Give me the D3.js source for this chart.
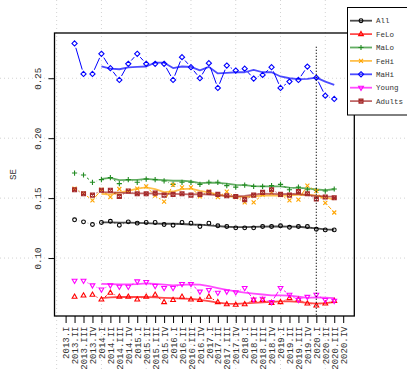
<!DOCTYPE html>
<html>
<head>
<meta charset="utf-8">
<script src="https://cdn.jsdelivr.net/npm/d3@7/dist/d3.min.js"></script>
<style>
  body { margin: 0; background: #fff; }
  text { font-family: "Liberation Mono", "DejaVu Sans Mono", monospace; }
</style>
</head>
<body>
<svg id="chart" width="407" height="371"></svg>
<script>
// Quarter labels on the x axis
const quarters = [
  "2013.I","2013.II","2013.III","2013.IV",
  "2014.I","2014.II","2014.III","2014.IV",
  "2015.I","2015.II","2015.III","2015.IV",
  "2016.I","2016.II","2016.III","2016.IV",
  "2017.I","2017.II","2017.III","2017.IV",
  "2018.I","2018.II","2018.III","2018.IV",
  "2019.I","2019.II","2019.III","2019.IV",
  "2020.I","2020.II","2020.III","2020.IV"
];
// Observed estimates run 2013.II .. 2020.III, smoothed trend 2014.I .. 2020.III
const obsFrom = "2013.II";
const trendFrom = "2014.I";
const breakQuarter = "2020.I";

const yTicks = [0.10, 0.15, 0.20, 0.25];
const xGridPos = [0, 5, 10, 15, 20, 25, 30];

const seriesNames = ["All", "FeLo", "MaLo", "FeHi", "MaHi", "Young", "Adults"];
const seriesColors = ["#000000", "#ff0000", "#228b22", "#ffa500", "#0000ff", "#ff00ff", "#a52a2a"];
const seriesSymbols = ["circle", "triUp", "plus", "cross", "diamond", "triDown", "squareX"];

// Standard errors by quarter
const All    = [0.1319,0.1302,0.1280,0.1297,0.1307,0.1274,0.1302,0.1291,0.1297,0.1297,0.1280,0.1274,0.1297,0.1291,0.1263,0.1291,0.1269,0.1263,0.1252,0.1252,0.1252,0.1263,0.1263,0.1269,0.1257,0.1263,0.1263,0.1240,0.1235,0.1235];
const FeLo   = [0.0677,0.0688,0.0694,0.0654,0.0710,0.0677,0.0677,0.0654,0.0677,0.0694,0.0632,0.0650,0.0677,0.0654,0.0650,0.0677,0.0632,0.0615,0.0610,0.0615,0.0650,0.0650,0.0626,0.0632,0.0666,0.0654,0.0621,0.0604,0.0621,0.0643];
const MaLo   = [0.1709,0.1693,0.1632,0.1654,0.1671,0.1621,0.1654,0.1632,0.1659,0.1654,0.1643,0.1615,0.1632,0.1632,0.1615,0.1632,0.1632,0.1604,0.1592,0.1609,0.1598,0.1598,0.1604,0.1615,0.1570,0.1592,0.1570,0.1565,0.1559,0.1576];
const FeHi   = [0.1580,0.1540,0.1481,0.1570,0.1509,0.1576,0.1560,0.1580,0.1598,0.1520,0.1470,0.1610,0.1590,0.1590,0.1514,0.1555,0.1509,0.1554,0.1509,0.1464,0.1464,0.1530,0.1545,0.1525,0.1481,0.1487,0.1604,0.1560,0.1461,0.1380];
const MaHi   = [0.2790,0.2536,0.2536,0.2704,0.2584,0.2486,0.2620,0.2704,0.2620,0.2620,0.2620,0.2486,0.2676,0.2592,0.2500,0.2626,0.2419,0.2606,0.2564,0.2580,0.2497,0.2528,0.2592,0.2419,0.2472,0.2486,0.2597,0.2505,0.2354,0.2327];
const Young  = [0.0811,0.0811,0.0772,0.0738,0.0772,0.0761,0.0761,0.0805,0.0800,0.0767,0.0750,0.0750,0.0783,0.0783,0.0720,0.0733,0.0710,0.0720,0.0715,0.0750,0.0654,0.0660,0.0632,0.0750,0.0694,0.0650,0.0676,0.0694,0.0650,0.0643];
const Adults = [0.1570,0.1537,0.1525,0.1565,0.1565,0.1514,0.1559,0.1537,0.1537,0.1542,0.1525,0.1531,0.1537,0.1525,0.1531,0.1548,0.1531,0.1520,0.1514,0.1487,0.1525,0.1548,0.1570,0.1531,0.1525,0.1554,0.1537,0.1492,0.1509,0.1503];

// Smoothed trend per group
const AllTrend    = [0.1298,0.1298,0.1296,0.1295,0.1294,0.1292,0.1288,0.1286,0.1286,0.1284,0.1280,0.1278,0.1272,0.1266,0.1261,0.1258,0.1258,0.1260,0.1262,0.1263,0.1263,0.1262,0.1261,0.1255,0.1247,0.1240,0.1236];
const FeLoTrend   = [0.0666,0.0672,0.0675,0.0676,0.0675,0.0675,0.0672,0.0668,0.0665,0.0662,0.0660,0.0652,0.0640,0.0628,0.0620,0.0618,0.0622,0.0626,0.0630,0.0634,0.0638,0.0638,0.0634,0.0626,0.0620,0.0624,0.0632];
const MaLoTrend   = [0.1660,0.1668,0.1650,0.1652,0.1652,0.1660,0.1655,0.1650,0.1645,0.1645,0.1640,0.1625,0.1630,0.1628,0.1620,0.1610,0.1608,0.1600,0.1598,0.1598,0.1598,0.1588,0.1586,0.1582,0.1572,0.1566,0.1574];
const FeHiTrend   = [0.1535,0.1530,0.1545,0.1560,0.1580,0.1590,0.1575,0.1550,0.1555,0.1575,0.1580,0.1560,0.1548,0.1530,0.1515,0.1510,0.1510,0.1515,0.1520,0.1522,0.1520,0.1522,0.1528,0.1530,0.1520,0.1505,0.1490];
const MaHiTrend   = [0.2600,0.2580,0.2575,0.2590,0.2595,0.2598,0.2630,0.2630,0.2585,0.2598,0.2595,0.2565,0.2595,0.2540,0.2545,0.2550,0.2550,0.2570,0.2550,0.2550,0.2515,0.2500,0.2492,0.2495,0.2505,0.2472,0.2444];
const YoungTrend  = [0.0785,0.0782,0.0780,0.0780,0.0782,0.0788,0.0785,0.0778,0.0772,0.0776,0.0780,0.0778,0.0765,0.0750,0.0735,0.0722,0.0712,0.0704,0.0696,0.0688,0.0688,0.0686,0.0677,0.0668,0.0672,0.0670,0.0666];
const AdultsTrend = [0.1550,0.1548,0.1545,0.1542,0.1540,0.1540,0.1538,0.1535,0.1535,0.1533,0.1532,0.1533,0.1530,0.1525,0.1518,0.1514,0.1518,0.1528,0.1537,0.1535,0.1533,0.1535,0.1533,0.1525,0.1518,0.1514,0.1512];

const observed = [All, FeLo, MaLo, FeHi, MaHi, Young, Adults];
const trends = [AllTrend, FeLoTrend, MaLoTrend, FeHiTrend, MaHiTrend, YoungTrend, AdultsTrend];

// ---- layout ----
const W = 407, H = 371;
const plot = { left: 54.5, right: 354.3, top: 33, bottom: 316 };
const svg = d3.select("#chart");

const qIndex = q => quarters.indexOf(q) + 1;
const n = quarters.length;
const xPad = 0.04 * (n - 1);
const x = d3.scaleLinear().domain([1 - xPad, n + xPad]).range([plot.left, plot.right]);

const allVals = observed.flat();
const yMin = d3.min(allVals), yMax = d3.max(allVals);
const yPad = 0.04 * (yMax - yMin);
const y = d3.scaleLinear().domain([yMin - yPad, yMax + yPad]).range([plot.bottom, plot.top]);

// ---- background grid across the whole figure ----
const grid = svg.append("g").attr("stroke", "#d3d3d3").attr("stroke-width", 1).attr("stroke-dasharray", "1,3");
grid.selectAll("line.v").data(xGridPos).join("line")
  .attr("x1", d => x(d)).attr("x2", d => x(d)).attr("y1", 0).attr("y2", H);
grid.selectAll("line.h").data(yTicks).join("line")
  .attr("y1", d => y(d)).attr("y2", d => y(d)).attr("x1", 0).attr("x2", W);

// ---- symbols ----
function symbolPath(kind) {
  switch (kind) {
    case "circle":  return "M1.9,0A1.9,1.9 0 1,1 -1.9,0A1.9,1.9 0 1,1 1.9,0Z";
    case "triUp":   return "M0,-2.7L2.4,1.5L-2.4,1.5Z";
    case "triDown": return "M0,2.7L2.4,-1.5L-2.4,-1.5Z";
    case "plus":    return "M-2.6,0H2.6M0,-2.6V2.6";
    case "cross":   return "M-2,-2L2,2M-2,2L2,-2";
    case "diamond": return "M0,-2.6L2.6,0L0,2.6L-2.6,0Z";
    case "squareX": return "M-2,-2H2V2H-2ZM-2,-2L2,2M-2,2L2,-2";
  }
}

// ---- series: gapped connecting segments, markers, trend line ----
const gap = 4.5;
const plotArea = svg.append("g");
const obsStart = qIndex(obsFrom);
const trendStart = qIndex(trendFrom);

seriesNames.forEach((name, s) => {
  const col = seriesColors[s];
  const pts = observed[s].map((v, i) => [x(obsStart + i), y(v)]);
  const g = plotArea.append("g");

  // point-to-point segments with gaps around the markers
  const segs = [];
  for (let i = 0; i < pts.length - 1; i++) {
    const [x1, y1] = pts[i], [x2, y2] = pts[i + 1];
    const d = Math.hypot(x2 - x1, y2 - y1);
    if (d > 2 * gap) {
      const ux = (x2 - x1) / d, uy = (y2 - y1) / d;
      segs.push([x1 + ux * gap, y1 + uy * gap, x2 - ux * gap, y2 - uy * gap]);
    }
  }
  g.selectAll("line").data(segs).join("line")
    .attr("x1", d => d[0]).attr("y1", d => d[1]).attr("x2", d => d[2]).attr("y2", d => d[3])
    .attr("stroke", col).attr("stroke-width", 1);

  // markers
  g.selectAll("path.pt").data(pts).join("path").attr("class", "pt")
    .attr("transform", d => `translate(${d[0]},${d[1]})`)
    .attr("d", symbolPath(seriesSymbols[s]))
    .attr("fill", "none").attr("stroke", col).attr("stroke-width", 1.1);

  // trend
  const line = d3.line().x((d, i) => x(trendStart + i)).y(d => y(d));
  g.append("path").datum(trends[s]).attr("d", line)
    .attr("fill", "none").attr("stroke", col).attr("stroke-width", 1.8)
    .attr("stroke-opacity", 0.7).attr("stroke-linejoin", "round");
});

// vertical marker at the series break
svg.append("line")
  .attr("x1", x(qIndex(breakQuarter))).attr("x2", x(qIndex(breakQuarter)))
  .attr("y1", y(0.2762)).attr("y2", plot.bottom)
  .attr("stroke", "#000").attr("stroke-width", 1.2).attr("stroke-dasharray", "1,2");

// ---- axes ----
const axisColor = "#333";
const yAxis = svg.append("g").attr("transform", `translate(${plot.left},0)`)
  .call(d3.axisLeft(y).tickValues(yTicks).tickSize(6).tickFormat(d3.format(".2f")));
yAxis.select(".domain").remove();
yAxis.selectAll(".tick line").attr("stroke", "#000");
yAxis.selectAll(".tick text")
  .attr("x", 0).attr("y", 0).attr("dy", "0.35em")
  .attr("transform", "translate(-17,0) rotate(-90)")
  .attr("text-anchor", "middle")
  .attr("font-family", "Liberation Mono").attr("font-size", 9.2).attr("fill", axisColor);

const xAxis = svg.append("g").attr("transform", `translate(0,${plot.bottom})`)
  .call(d3.axisBottom(x).tickValues(d3.range(1, n + 1)).tickSize(7).tickFormat(i => quarters[i - 1]));
xAxis.select(".domain").remove();
xAxis.selectAll(".tick line").attr("stroke", "#000");
xAxis.selectAll(".tick text")
  .attr("x", 0).attr("y", 0).attr("dy", "0.35em")
  .attr("transform", "translate(0,10.5) rotate(-90)")
  .attr("text-anchor", "end")
  .attr("font-family", "Liberation Mono").attr("font-size", 9).attr("fill", axisColor);

svg.append("text")
  .attr("transform", `translate(13,${(plot.top + plot.bottom) / 2}) rotate(-90)`)
  .attr("text-anchor", "middle").attr("dy", "0.35em")
  .attr("font-size", 9.2).attr("fill", axisColor).text("SE");

// plot frame
svg.append("rect")
  .attr("x", plot.left).attr("y", plot.top)
  .attr("width", plot.right - plot.left).attr("height", plot.bottom - plot.top)
  .attr("fill", "none").attr("stroke", "#000").attr("stroke-width", 1.3);

// ---- legend ----
const lg = svg.append("g");
lg.append("rect").attr("x", 347.5).attr("y", 7.5).attr("width", 70).attr("height", 107.5)
  .attr("fill", "#fff").attr("stroke", "#000").attr("stroke-width", 1);
seriesNames.forEach((name, s) => {
  const ly = 20.7 + s * 13.4;
  lg.append("line").attr("x1", 350).attr("x2", 372).attr("y1", ly).attr("y2", ly)
    .attr("stroke", seriesColors[s]).attr("stroke-width", 1.8).attr("stroke-opacity", 0.7);
  lg.append("path").attr("transform", `translate(361,${ly})`)
    .attr("d", symbolPath(seriesSymbols[s]))
    .attr("fill", "none").attr("stroke", seriesColors[s]).attr("stroke-width", 1.1);
  lg.append("text").attr("x", 376).attr("y", ly).attr("dy", "0.35em")
    .attr("font-size", 7.5).attr("fill", axisColor).text(name);
});
</script>
</body>
</html>
